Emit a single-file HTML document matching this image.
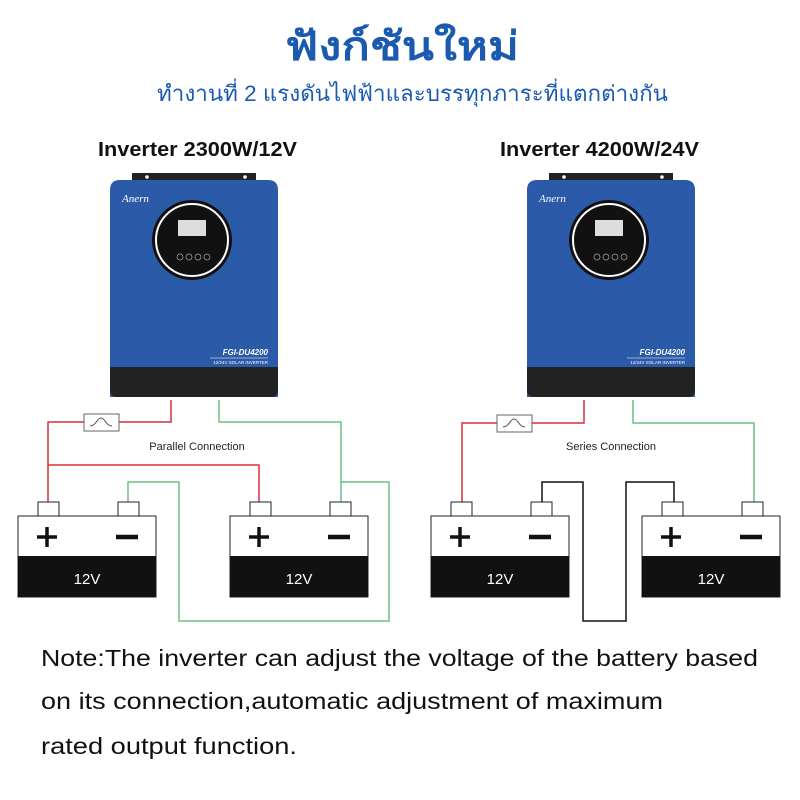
<!DOCTYPE html><html><head><meta charset="utf-8"><style>body{margin:0;background:#fff}svg{display:block}</style></head><body>
<svg width="800" height="800" viewBox="0 0 800 800" xmlns="http://www.w3.org/2000/svg" font-family="Liberation Sans, sans-serif">
<text x="285" y="60" textLength="234" lengthAdjust="spacingAndGlyphs" font-size="40" font-weight="bold" fill="#1a5bb0" font-family="Liberation Sans, Noto Sans CJK SC, sans-serif">ฟังก์ชันใหม่</text>
<text x="157" y="101" textLength="511" lengthAdjust="spacingAndGlyphs" font-size="22" fill="#1a5bb0" font-family="Liberation Sans, Noto Sans CJK SC, sans-serif">ทำงานที่ 2 แรงดันไฟฟ้าและบรรทุกภาระที่แตกต่างกัน</text>
<text x="98" y="156" textLength="199" lengthAdjust="spacingAndGlyphs" font-size="20" font-weight="bold" fill="#111">Inverter 2300W/12V</text>
<text x="500" y="156" textLength="199" lengthAdjust="spacingAndGlyphs" font-size="20" font-weight="bold" fill="#111">Inverter 4200W/24V</text>
<defs>
<g id="inv">
<rect x="22" y="-5" width="124" height="9" fill="#222"/>
<circle cx="37" cy="-1" r="1.8" fill="#fff"/><circle cx="135" cy="-1" r="1.8" fill="#fff"/>
<path d="M0,12 Q0,2 10,2 L158,2 Q168,2 168,12 L168,219 L0,219 Z" fill="#2a5aa8"/>
<path d="M0,189 H168 V212 Q168,219 161,219 H7 Q0,219 0,212 Z" fill="#222"/>
<circle cx="82" cy="62" r="40" fill="#111"/>
<circle cx="82" cy="62" r="36" fill="none" stroke="#fff" stroke-width="2"/>
<rect x="68" y="42" width="28" height="16" fill="#ddd"/>
<circle cx="70" cy="79" r="3" fill="none" stroke="#aaa" stroke-width="0.7"/><circle cx="79" cy="79" r="3" fill="none" stroke="#aaa" stroke-width="0.7"/><circle cx="88" cy="79" r="3" fill="none" stroke="#aaa" stroke-width="0.7"/><circle cx="97" cy="79" r="3" fill="none" stroke="#aaa" stroke-width="0.7"/>
<text x="12" y="24" font-size="11" font-style="italic" font-family="Liberation Serif, serif" fill="#fff">Anern</text>
<text x="158" y="177" text-anchor="end" font-size="8" font-weight="bold" font-style="italic" fill="#fff">FGI-DU4200</text>
<line x1="100" y1="180" x2="158" y2="180" stroke="#fff" stroke-width="0.5"/>
<text x="158" y="186" text-anchor="end" font-size="4.5" fill="#fff">12/24V SOLAR INVERTER</text>
</g>
<g id="bat">
<rect x="20" y="-14" width="21" height="14" fill="#fff" stroke="#222" stroke-width="1"/>
<rect x="100" y="-14" width="21" height="14" fill="#fff" stroke="#222" stroke-width="1"/>
<rect x="0" y="0" width="138" height="81" fill="#fff" stroke="#222" stroke-width="1"/>
<rect x="0" y="40" width="138" height="41" fill="#111"/>
<path d="M19,21 H39 M29,11 V31" stroke="#111" stroke-width="3.5"/>
<path d="M98,21 H120" stroke="#111" stroke-width="4.5"/>
<text x="69" y="68" text-anchor="middle" font-size="15" fill="#fff">12V</text>
</g>
<g id="fuse"><rect x="0" y="-8" width="35" height="17" fill="#fff" stroke="#666" stroke-width="1"/><path d="M6,4 C12,4 13,-4 17,-4 C21,-4 22,4 28,4" fill="none" stroke="#555"/></g>
</defs>
<use href="#inv" x="110" y="178"/>
<use href="#inv" x="527" y="178"/>
<g fill="none" stroke-width="1.5">
<path d="M171,400 V422 H48 V502 M48,465 H259 V502" stroke="#d9303a"/>
<path d="M219,400 V422 H341 V502 M341,482 H389 V621 H179 V482 H128 V502" stroke="#6cc080"/>
<path d="M584,400 V423 H462 V502" stroke="#d9303a"/>
<path d="M633,400 V423 H754 V502" stroke="#6cc080"/>
<path d="M542,502 V482 H583 V621 H626 V482 H674 V502" stroke="#111"/>
</g>
<use href="#fuse" x="84" y="422"/><use href="#fuse" x="497" y="423"/>
<text x="197" y="450" text-anchor="middle" font-size="11" fill="#222">Parallel Connection</text>
<text x="611" y="450" text-anchor="middle" font-size="11" fill="#222">Series Connection</text>
<use href="#bat" x="18" y="516"/><use href="#bat" x="230" y="516"/>
<use href="#bat" x="431" y="516"/><use href="#bat" x="642" y="516"/>
<g font-size="23" fill="#111"><text x="41" y="666" textLength="717" lengthAdjust="spacingAndGlyphs">Note:The inverter can adjust the voltage of the battery based</text>
<text x="41" y="709" textLength="622" lengthAdjust="spacingAndGlyphs">on its connection,automatic adjustment of maximum</text>
<text x="41" y="754" textLength="256" lengthAdjust="spacingAndGlyphs">rated output function.</text></g>
</svg></body></html>
